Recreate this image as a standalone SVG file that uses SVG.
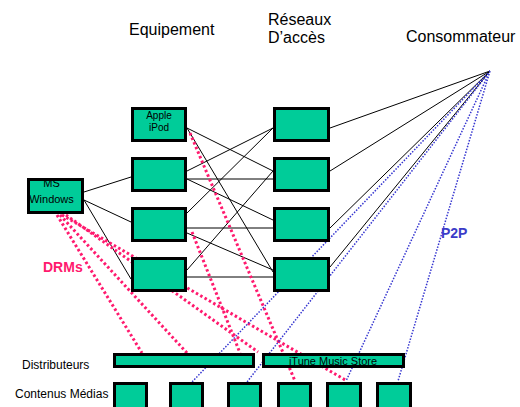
<svg xmlns="http://www.w3.org/2000/svg" width="520" height="407" viewBox="0 0 520 407">
<style>
.box{fill:#00cc99;stroke:#000;stroke-width:3}
.t{font-family:"Liberation Sans",Arial,sans-serif;fill:#000}
.h{font-size:16px}
.s{font-size:12px}
.k{stroke:#000;stroke-width:1;fill:none}
.p{stroke:#ff1a6e;stroke-width:3;stroke-dasharray:2.5 2.5;fill:none}
.b{stroke:#3535d0;stroke-width:1.5;stroke-dasharray:1.5 1.5;fill:none}
</style>
<rect width="520" height="407" fill="#fff"/>
<g id="labels">
<text class="t h" x="129" y="35">Equipement</text>
<text class="t h" x="268" y="25">Réseaux</text>
<text class="t h" x="268" y="43">D’accès</text>
<text class="t h" x="406" y="42">Consommateur</text>
<text class="t s" x="22" y="369">Distributeurs</text>
<text class="t s" x="15" y="398">Contenus Médias</text>
<text x="43" y="272" font-family="Liberation Sans,Arial,sans-serif" font-size="14" font-weight="bold" fill="#ff1a6e">DRMs</text>
<text x="441" y="238" font-family="Liberation Sans,Arial,sans-serif" font-size="14" font-weight="bold" fill="#3b3bc8">P2P</text>
</g>
<g id="connectors">
<path class="k" d="M187,128L273,171M187,128L273,272M187,171L273,128M187,179L273,179M187,179L273,220M187,213L273,128M187,228L273,228M187,233L273,270M187,270L273,171M187,277L273,277"/>
<path class="k" d="M84,192L131,177M84,200L131,222M84,200L131,279"/>
<path class="k" d="M330,128L490,71M330,171L490,71M330,228L490,71M330,267L490,71"/>
<path class="p" d="M190,133L295,381M192,232L240,353M57,215L142,353M60,215L187,353M62,215L347,381M66,215L258,352"/>
<path class="b" d="M490,71L192,382M490,71L247,382M490,71L346,381M490,71L398,381"/>
</g>
<g id="windows"><rect class="box" x="28.5" y="179.5" width="54" height="33"/><text class="t" font-size="11" x="51.5" y="187" text-anchor="middle">MS</text><text class="t" font-size="11" x="51.5" y="203" text-anchor="middle">Windows</text></g>
<g id="ipod"><rect class="box" x="132.5" y="108.5" width="53" height="32"/><text class="t" font-size="10" x="159" y="119" text-anchor="middle">Apple</text><text class="t" font-size="10" x="159" y="131" text-anchor="middle">iPod</text></g>
<g id="eq2"><rect class="box" x="132.5" y="158.5" width="53" height="32"/></g>
<g id="eq3"><rect class="box" x="132.5" y="208.5" width="53" height="32"/></g>
<g id="eq4"><rect class="box" x="132.5" y="258.5" width="53" height="32"/></g>
<g id="r1"><rect class="box" x="274.5" y="108.5" width="54" height="32"/></g>
<g id="r2"><rect class="box" x="274.5" y="158.5" width="54" height="32"/></g>
<g id="r3"><rect class="box" x="274.5" y="208.5" width="54" height="32"/></g>
<g id="r4"><rect class="box" x="274.5" y="258.5" width="54" height="32"/></g>
<g id="distributeurs"><rect class="box" x="114.5" y="354.5" width="139" height="12"/></g>
<g id="itunes"><rect class="box" x="263.5" y="354.5" width="140" height="12"/><text class="t" font-size="11" x="333" y="365" text-anchor="middle">iTune Music Store</text></g>
<g id="c1"><rect class="box" x="114.5" y="383.5" width="32" height="30"/></g>
<g id="c2"><rect class="box" x="170.5" y="383.5" width="32" height="30"/></g>
<g id="c3"><rect class="box" x="228.5" y="383.5" width="32" height="30"/></g>
<g id="c4"><rect class="box" x="278.5" y="383.5" width="32" height="30"/></g>
<g id="c5"><rect class="box" x="327.5" y="383.5" width="33" height="30"/></g>
<g id="c6"><rect class="box" x="377.5" y="383.5" width="33" height="30"/></g>
</svg>
